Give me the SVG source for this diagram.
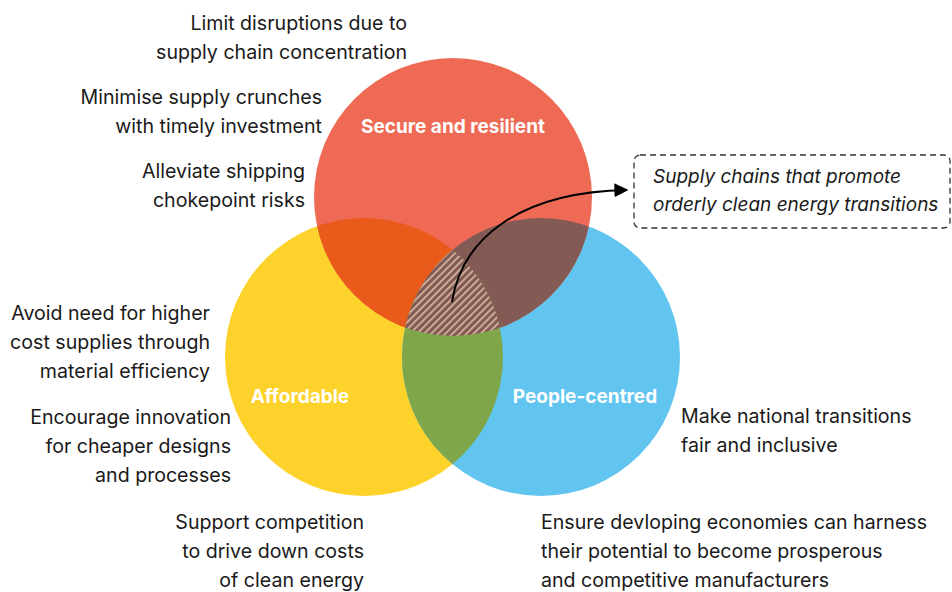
<svg xmlns="http://www.w3.org/2000/svg" width="952" height="592" viewBox="0 0 952 592">
<style>
.t{font-family:Inter,"Liberation Sans",sans-serif;font-size:19.6px;fill:#1a1a1a}
.r{text-anchor:end}
.lbl{font-family:Inter,"Liberation Sans",sans-serif;font-size:19px;font-weight:700;fill:#fff;text-anchor:middle}
.it{font-style:italic;font-size:19px}
</style>
<defs>
<clipPath id="cR"><circle cx="453" cy="197" r="139"/></clipPath>
<clipPath id="cY"><circle cx="364" cy="357" r="139"/></clipPath>
<clipPath id="cB"><circle cx="541" cy="357" r="139"/></clipPath>
<pattern id="hatch" patternUnits="userSpaceOnUse" width="5" height="5" patternTransform="rotate(45)">
<rect width="5" height="5" fill="#835a52"/>
<rect x="0" y="0" width="1.6" height="5" fill="#d9bba6"/>
</pattern>
<marker id="ah" viewBox="0 0 10 10" refX="9" refY="5" markerWidth="14" markerHeight="14" markerUnits="userSpaceOnUse" orient="auto">
<path d="M0,0 L10,5 L0,10 z" fill="#000"/>
</marker>
</defs>
<g id="affordable">
<circle cx="364" cy="357" r="139" fill="#fdd22b"/>
<text class="lbl" x="300" y="403">Affordable</text>
</g>
<g id="people-centred">
<circle cx="541" cy="357" r="139" fill="#62c5f0"/>
</g>
<g id="secure">
<circle cx="453" cy="197" r="139" fill="#ee6a55"/>
<text class="lbl" x="453" y="133">Secure and resilient</text>
</g>
<g id="overlaps">
<g clip-path="url(#cR)"><circle cx="364" cy="357" r="139" fill="#ea5a1b"/></g>
<g clip-path="url(#cR)"><circle cx="541" cy="357" r="139" fill="#845a55"/></g>
<g clip-path="url(#cY)"><circle cx="541" cy="357" r="139" fill="#7fa74a"/></g>
<g clip-path="url(#cR)"><g clip-path="url(#cY)"><circle cx="541" cy="357" r="139" fill="url(#hatch)"/></g></g>
</g>
<text class="lbl" x="585" y="403">People-centred</text>
<g id="connectors">
<path d="M452,302 C462,238 520,192 627,190" fill="none" stroke="#000" stroke-width="2" marker-end="url(#ah)"/>
</g>
<g id="callout">
<rect x="634" y="155" width="316" height="73" rx="6" fill="#fff" stroke="#333" stroke-width="1.3" stroke-dasharray="6,4"/>
<text class="t it" x="653" y="183">Supply chains that promote</text>
<text class="t it" x="653" y="211">orderly clean energy transitions</text>
</g>
<g id="labels">
<text class="t r" x="407" y="30">Limit disruptions due to</text>
<text class="t r" x="407" y="59">supply chain concentration</text>
<text class="t r" x="322" y="104">Minimise supply crunches</text>
<text class="t r" x="322" y="133">with timely investment</text>
<text class="t r" x="305" y="178">Alleviate shipping</text>
<text class="t r" x="305" y="207">chokepoint risks</text>
<text class="t r" x="210" y="320">Avoid need for higher</text>
<text class="t r" x="210" y="349">cost supplies through</text>
<text class="t r" x="210" y="378">material efficiency</text>
<text class="t r" x="231" y="424">Encourage innovation</text>
<text class="t r" x="231" y="453">for cheaper designs</text>
<text class="t r" x="231" y="482">and processes</text>
<text class="t r" x="364" y="529">Support competition</text>
<text class="t r" x="364" y="558">to drive down costs</text>
<text class="t r" x="364" y="587">of clean energy</text>
<text class="t" x="541" y="529">Ensure devloping economies can harness</text>
<text class="t" x="541" y="558">their potential to become prosperous</text>
<text class="t" x="541" y="587">and competitive manufacturers</text>
<text class="t" x="681" y="423">Make national transitions</text>
<text class="t" x="681" y="452">fair and inclusive</text>
</g>
</svg>
